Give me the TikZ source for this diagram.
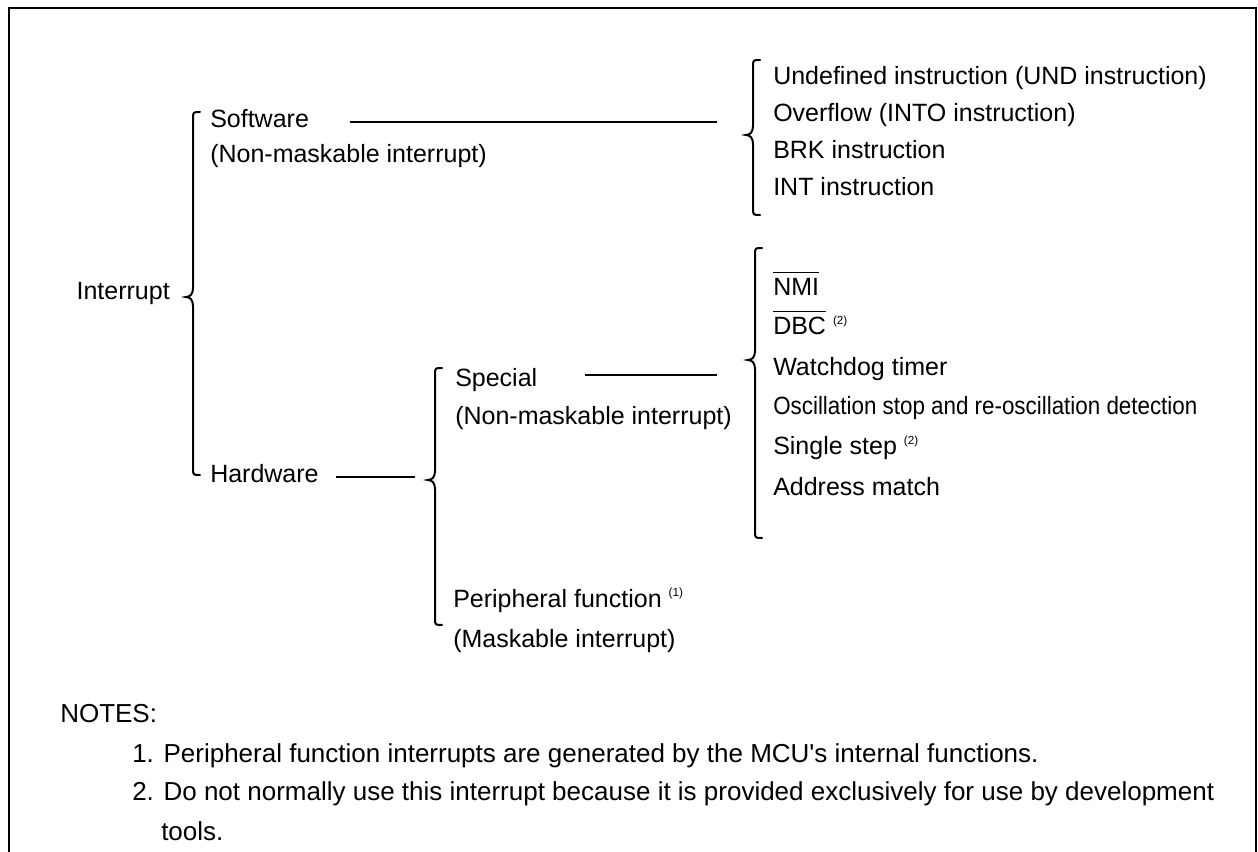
\documentclass[tikz,border=0pt]{standalone}
\usepackage{fontspec}
\setmainfont{Liberation Sans}
\newfontfamily\plainsans{Liberation Sans}
\newcommand{\supn}[1]{\raisebox{8pt}{\fontsize{8.8pt}{8.8pt}\selectfont(#1)}}
\newsavebox{\ovlbox}
\newcommand{\ovl}[1]{\sbox{\ovlbox}{#1}\rlap{\raisebox{17pt}{\rule{\wd\ovlbox}{1pt}}}\usebox{\ovlbox}}
\newcommand{\brc}[4]{\draw[brc] (#1+7,#2) .. controls (#1,#2) .. (#1,#2+7) -- (#1,#3-9) .. controls (#1,#3-3) and (#1-3,#3) .. (#1-7,#3) .. controls (#1-3,#3) and (#1,#3+3) .. (#1,#3+9) -- (#1,#4-7) .. controls (#1,#4) .. (#1+7,#4);}
\begin{document}
\begin{tikzpicture}[x=0.75pt,y=-0.75pt,
  every node/.style={font=\fontsize{18.75pt}{22pt}\selectfont, inner sep=0pt, anchor=base west},
  notefont/.style={font=\plainsans\fontsize{19.5pt}{23pt}\selectfont},
  brc/.style={line width=1.5pt, line cap=round},
  conn/.style={line width=1.5pt},
  frame/.style={line width=2pt}]
\useasboundingbox (0,0) rectangle (1258,852);
% frame (open at bottom)
\draw[frame] (9,853) -- (9,8) -- (1256,8) -- (1256,853);

% level 0
\node[anchor=base east] (intr) at (170,300) {Interrupt};
\brc{193}{112}{297}{475}

% level 1
\node (sw) at (210,128) {Software};
\node (swn) at (210,163) {(Non-maskable interrupt)};
\node (hw) at (210,483) {Hardware};

\coordinate (swL) at (350,122);
\coordinate (swR) at (717,122);
\draw[conn] (swL) -- (swR);
\coordinate (hwL) at (336,477);
\coordinate (hwR) at (415,477);
\draw[conn] (hwL) -- (hwR);

% software list
\brc{753}{60}{135}{215}
\node (s1) at (773,85) {Undefined instruction (UND instruction)};
\node (s2) at (773,122) {Overflow (INTO instruction)};
\node (s3) at (773,159) {BRK instruction};
\node (s4) at (773,196) {INT instruction};

% hardware brace
\brc{435}{368}{480}{625}
\node (sp) at (455,387) {Special};
\node (spn) at (455,425) {(Non-maskable interrupt)};
\node (pf) at (453,607) {Peripheral function \supn{1}};
\node (pfn) at (453,647) {(Maskable interrupt)};

\coordinate (spL) at (585,375);
\coordinate (spR) at (717,375);
\draw[conn] (spL) -- (spR);

% special list
\brc{755}{248}{360}{538}
\node (h1) at (773,296) {\ovl{NMI}};
\node (h2) at (773,335) {\ovl{DBC} \supn{2}};
\node (h3) at (773,376) {Watchdog timer};
\node (h4) at (773,415) {\scalebox{0.895}[1]{Oscillation stop and re-oscillation detection}};
\node (h5) at (773,455) {Single step \supn{2}};
\node (h6) at (773,495) {Address match};

% notes
\node[notefont] (notes) at (60,722) {NOTES:};
\node[notefont] (n1) at (132,762) {1. Peripheral function interrupts are generated by the MCU's internal functions.};
\node[notefont] (n2) at (132,800) {2. Do not normally use this interrupt because it is provided exclusively for use by development};
\node[notefont] (n3) at (161,840) {tools.};
\end{tikzpicture}
\end{document}
